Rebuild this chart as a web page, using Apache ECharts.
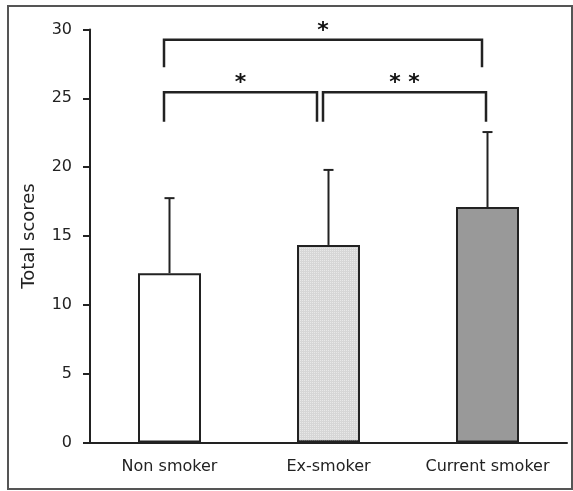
<!DOCTYPE html>
<html>
<head>
<meta charset="utf-8">
<script src="https://cdn.jsdelivr.net/npm/echarts@6/dist/echarts.min.js"></script>
<style>
html,body{margin:0;padding:0;background:#fff;}
#chart{width:573px;height:491px;}
</style>
</head>
<body>
<div id="chart"></div>
<script>
// ---- data ----
var categories = ['Non smoker', 'Ex-smoker', 'Current smoker'];
var means = [12.3, 14.35, 17.1];
var sds = [5.45, 5.45, 5.45];
var yTicks = [0, 5, 10, 15, 20, 25, 30];
// brackets: [fromCategory, toCategory, barLevel, legBottom]
var bracketFrom = [0, 0, 1];
var bracketTo = [2, 1, 2];
var bracketTop = [29.25, 25.45, 25.45];
var bracketLegEnd = [27.25, 23.3, 23.3];
var bracketLabels = ['*', '*', '* *'];

// ---- styles (pixel offsets, colors) ----
var barColors = ['#ffffff', '#d6d6d6', '#999999'];
var legOffsetLeft = [-5.5, -5.5, -5.5];
var legOffsetRight = [-5.5, -11.5, -1.5];
var ink = '#222';

var chart = echarts.init(document.getElementById('chart'), null, {renderer: 'canvas'});

var barData = means.map(function (v, i) {
  var st = {color: barColors[i], borderColor: ink, borderWidth: 2};
  if (i === 1) {
    st.decal = {symbol: 'rect', symbolSize: 1, dashArrayX: [[1, 1]], dashArrayY: [1, 1], color: 'rgba(255,255,255,0.45)', rotation: 0};
  }
  return {value: v, itemStyle: st};
});

var errData = means.map(function (v, i) { return [i, v, v + sds[i]]; });
var bracketData = bracketFrom.map(function (f, i) {
  return [f, bracketTo[i], bracketTop[i], bracketLegEnd[i], i];
});

chart.setOption({
  animation: false,
  backgroundColor: '#ffffff',
  textStyle: {fontFamily: 'DejaVu Sans'},
  graphic: [{
    type: 'rect', silent: true, z: 100,
    shape: {x: 8, y: 6, width: 564, height: 483},
    style: {fill: 'none', stroke: '#555', lineWidth: 2}
  }],
  grid: {left: 90, right: 6, top: 29.5, bottom: 48.5, containLabel: false},
  xAxis: {
    type: 'category',
    data: categories,
    axisLine: {lineStyle: {color: ink, width: 2}},
    axisTick: {show: false},
    axisLabel: {color: '#222', fontSize: 16, margin: 16, interval: 0, fontFamily: 'DejaVu Sans'},
    z: 10
  },
  yAxis: {
    type: 'value',
    min: 0, max: 30, interval: 5,
    name: 'Total scores',
    nameLocation: 'middle',
    nameGap: 52,
    nameRotate: 90,
    nameTextStyle: {color: '#222', fontSize: 18, fontFamily: 'DejaVu Sans'},
    axisLine: {show: true, lineStyle: {color: ink, width: 2}},
    axisTick: {show: true, length: 7, lineStyle: {color: ink, width: 2}},
    axisLabel: {color: '#222', fontSize: 16, margin: 18, fontFamily: 'DejaVu Sans',
      formatter: function (v) { return yTicks.indexOf(v) >= 0 ? String(v) : ''; }},
    splitLine: {show: false},
    z: 10
  },
  series: [
    {
      type: 'bar',
      data: barData,
      barWidth: 63,
      z: 2
    },
    {
      type: 'custom',
      data: errData,
      encode: {x: 0, y: [1, 2]},
      z: 3,
      renderItem: function (params, api) {
        var i = api.value(0);
        var p0 = api.coord([i, api.value(1)]);
        var p1 = api.coord([i, api.value(2)]);
        var st = {stroke: ink, lineWidth: 2};
        return {type: 'group', children: [
          {type: 'line', shape: {x1: p0[0], y1: p0[1], x2: p1[0], y2: p1[1]}, style: st},
          {type: 'line', shape: {x1: p1[0] - 5, y1: p1[1], x2: p1[0] + 5, y2: p1[1]}, style: st}
        ]};
      }
    },
    {
      type: 'custom',
      data: bracketData,
      encode: {x: [0, 1], y: [2, 3]},
      clip: false,
      z: 4,
      renderItem: function (params, api) {
        var k = api.value(4);
        var a = api.coord([api.value(0), api.value(2)]);
        var b = api.coord([api.value(1), api.value(2)]);
        var e = api.coord([api.value(0), api.value(3)]);
        var xl = a[0] + legOffsetLeft[k];
        var xr = b[0] + legOffsetRight[k];
        var yt = a[1];
        var yb = e[1];
        return {type: 'group', children: [
          {type: 'polyline', shape: {points: [[xl, yb], [xl, yt], [xr, yt], [xr, yb]]},
            style: {stroke: ink, lineWidth: 2.5, fill: 'none', lineJoin: 'miter'}},
          {type: 'text', style: {
            text: bracketLabels[k], x: (xl + xr) / 2, y: yt - 9,
            align: 'center', verticalAlign: 'middle',
            font: 'bold 22px "DejaVu Sans"', fill: '#111'
          }}
        ]};
      }
    }
  ]
});
</script>
</body>
</html>
